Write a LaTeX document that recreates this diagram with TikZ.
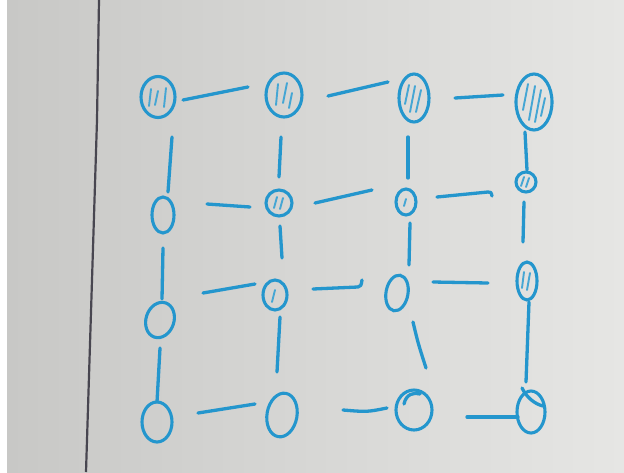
\documentclass[tikz,border=0pt]{standalone}
\usetikzlibrary{shapes.geometric,calc}
\definecolor{ink}{RGB}{36,150,205}
\definecolor{paperL}{RGB}{200,200,198}
\definecolor{paperR}{RGB}{230,230,228}
\definecolor{rule}{RGB}{72,70,80}
\begin{document}
\begin{tikzpicture}[x=1pt,y=-1pt,
  dot/.style={ellipse,draw=ink,line width=3.1pt,inner sep=0pt},
  seg/.style={draw=ink,line width=3.3pt,line cap=round,line join=round},
  hat/.style={draw=ink!85,line width=1.9pt,line cap=round}]
\useasboundingbox (0,0) rectangle (624,472);
\shade[left color=paperL,right color=paperR] (7,0) rectangle (624,472);
\fill[white] (0,0) rectangle (7,472);
\draw[rule,line width=2.2pt] (99,0) -- (97,120) -- (86,472);

% nodes
\node[dot,minimum width=34pt,minimum height=41pt] (a11) at (158,97) {};
\node[dot,minimum width=36pt,minimum height=44pt] (a12) at (284,95) {};
\node[dot,minimum width=30pt,minimum height=48pt] (a13) at (414,98) {};
\node[dot,minimum width=36pt,minimum height=56pt] (a14) at (534,102) {};
\node[dot,minimum width=22pt,minimum height=36pt] (a21) at (163,215) {};
\node[dot,minimum width=26pt,minimum height=26pt] (a22) at (279,203) {};
\node[dot,minimum width=20pt,minimum height=26pt] (a23) at (406,202) {};
\node[dot,minimum width=20pt,minimum height=20pt] (a24) at (526,182) {};
\node[dot,minimum width=28pt,minimum height=36pt,rotate=-18] (a31) at (160,320) {};
\node[dot,minimum width=24pt,minimum height=30pt] (a32) at (275,295) {};
\node[dot,minimum width=22pt,minimum height=36pt,rotate=-10] (a33) at (397,293) {};
\node[dot,minimum width=20pt,minimum height=38pt] (a34) at (527,281) {};
\node[dot,minimum width=30pt,minimum height=40pt] (a41) at (157,422) {};
\node[dot,minimum width=30pt,minimum height=44pt,rotate=-10] (a42) at (282,415) {};
\node[dot,minimum width=36pt,minimum height=40pt] (a43) at (414,410) {};
\node[dot,minimum width=28pt,minimum height=42pt] (a44) at (531,412) {};

% hatching
\draw[hat] ($(a11)+(-9,9)$) -- ($(a11)+(-7,-8)$);
\draw[hat] ($(a11)+(-3,8)$) -- ($(a11)+(0,-6)$);
\draw[hat] ($(a11)+(6,10)$) -- ($(a11)+(8,-9)$);
\draw[hat] ($(a12)+(-8,10)$) -- ($(a12)+(-6,-11)$);
\draw[hat] ($(a12)+(-1,8)$) -- ($(a12)+(3,-12)$);
\draw[hat] ($(a12)+(5,13)$) -- ($(a12)+(8,-2)$);
\draw[hat] ($(a13)+(-9,6)$) -- ($(a13)+(-5,-13)$);
\draw[hat] ($(a13)+(-4,14)$) -- ($(a13)+(1,-12)$);
\draw[hat] ($(a13)+(2,14)$) -- ($(a13)+(7,-8)$);
\draw[hat] ($(a14)+(-11,8)$) -- ($(a14)+(-6,-18)$);
\draw[hat] ($(a14)+(-5,18)$) -- ($(a14)+(1,-16)$);
\draw[hat] ($(a14)+(1,20)$) -- ($(a14)+(7,-12)$);
\draw[hat] ($(a14)+(7,14)$) -- ($(a14)+(11,-4)$);
\draw[hat] ($(a22)+(-5,5)$) -- ($(a22)+(-2,-6)$);
\draw[hat] ($(a22)+(1,6)$) -- ($(a22)+(4,-5)$);
\draw[hat] ($(a23)+(-2,4)$) -- ($(a23)+(0,-3)$);
\draw[hat] ($(a24)+(-5,4)$) -- ($(a24)+(-2,-5)$);
\draw[hat] ($(a24)+(0,5)$) -- ($(a24)+(3,-4)$);
\draw[hat] ($(a32)+(-3,7)$) -- ($(a32)+(0,-5)$);
\draw[hat] ($(a34)+(-5,7)$) -- ($(a34)+(-3,-9)$);
\draw[hat] ($(a34)+(0,9)$) -- ($(a34)+(3,-8)$);
\draw[seg] ($(a43)+(-10,-6)$) .. controls ($(a43)+(-8,-16)$) and ($(a43)+(0,-18)$) .. ($(a43)+(6,-16)$);
\draw[seg] ($(a44)+(-9,-24)$) .. controls ($(a44)+(-4,-14)$) and ($(a44)+(4,-8)$) .. ($(a44)+(12,-6)$);

% horizontal connectors
\draw[seg] ($(a11)+(25,3)$) -- ($(a12)+(-36,-8)$);
\draw[seg] ($(a12)+(44,1)$) -- ($(a13)+(-26,-16)$);
\draw[seg] ($(a13)+(41,0)$) -- ($(a14)+(-31,-7)$);
\draw[seg] ($(a21)+(44,-11)$) -- ($(a22)+(-29,4)$);
\draw[seg] ($(a22)+(36,0)$) -- ($(a23)+(-34,-12)$);
\draw[seg] ($(a23)+(31,-5)$) -- ($(a24)+(-38,10)$) .. controls ($(a24)+(-35,10)$) .. ($(a24)+(-34,14)$);
\draw[seg] ($(a31)+(43,-27)$) -- ($(a32)+(-20,-11)$);
\draw[seg] ($(a32)+(38,-6)$) -- ($(a33)+(-39,-6)$) .. controls ($(a33)+(-36,-7)$) .. ($(a33)+(-35,-13)$);
\draw[seg] ($(a33)+(36,-11)$) -- ($(a34)+(-39,2)$);
\draw[seg] ($(a41)+(41,-9)$) -- ($(a42)+(-27,-11)$);
\draw[seg] ($(a42)+(61,-5)$) .. controls ($(a42)+(85,-3)$) .. ($(a43)+(-27,-2)$);
\draw[seg] ($(a43)+(53,7)$) -- ($(a44)+(-13,5)$);

% vertical connectors
\draw[seg] ($(a11)+(14,40)$) -- ($(a21)+(5,-23)$);
\draw[seg] ($(a12)+(-3,42)$) -- ($(a22)+(0,-26)$);
\draw[seg] ($(a13)+(-6,39)$) -- ($(a23)+(2,-24)$);
\draw[seg] ($(a14)+(-9,30)$) -- ($(a24)+(1,-12)$);
\draw[seg] ($(a21)+(0,33)$) -- ($(a31)+(2,-21)$);
\draw[seg] ($(a22)+(1,23)$) -- ($(a32)+(7,-37)$);
\draw[seg] ($(a23)+(4,21)$) -- ($(a33)+(12,-28)$);
\draw[seg] ($(a24)+(-2,20)$) -- ($(a34)+(-4,-39)$);
\draw[seg] ($(a31)+(0,28)$) -- ($(a41)+(0,-20)$);
\draw[seg] ($(a32)+(5,22)$) -- ($(a42)+(-5,-43)$);
\draw[seg] ($(a33)+(16,29)$) .. controls ($(a33)+(21,50)$) .. ($(a43)+(12,-42)$);
\draw[seg] ($(a34)+(2,21)$) -- ($(a44)+(-5,-30)$);
\end{tikzpicture}
\end{document}
